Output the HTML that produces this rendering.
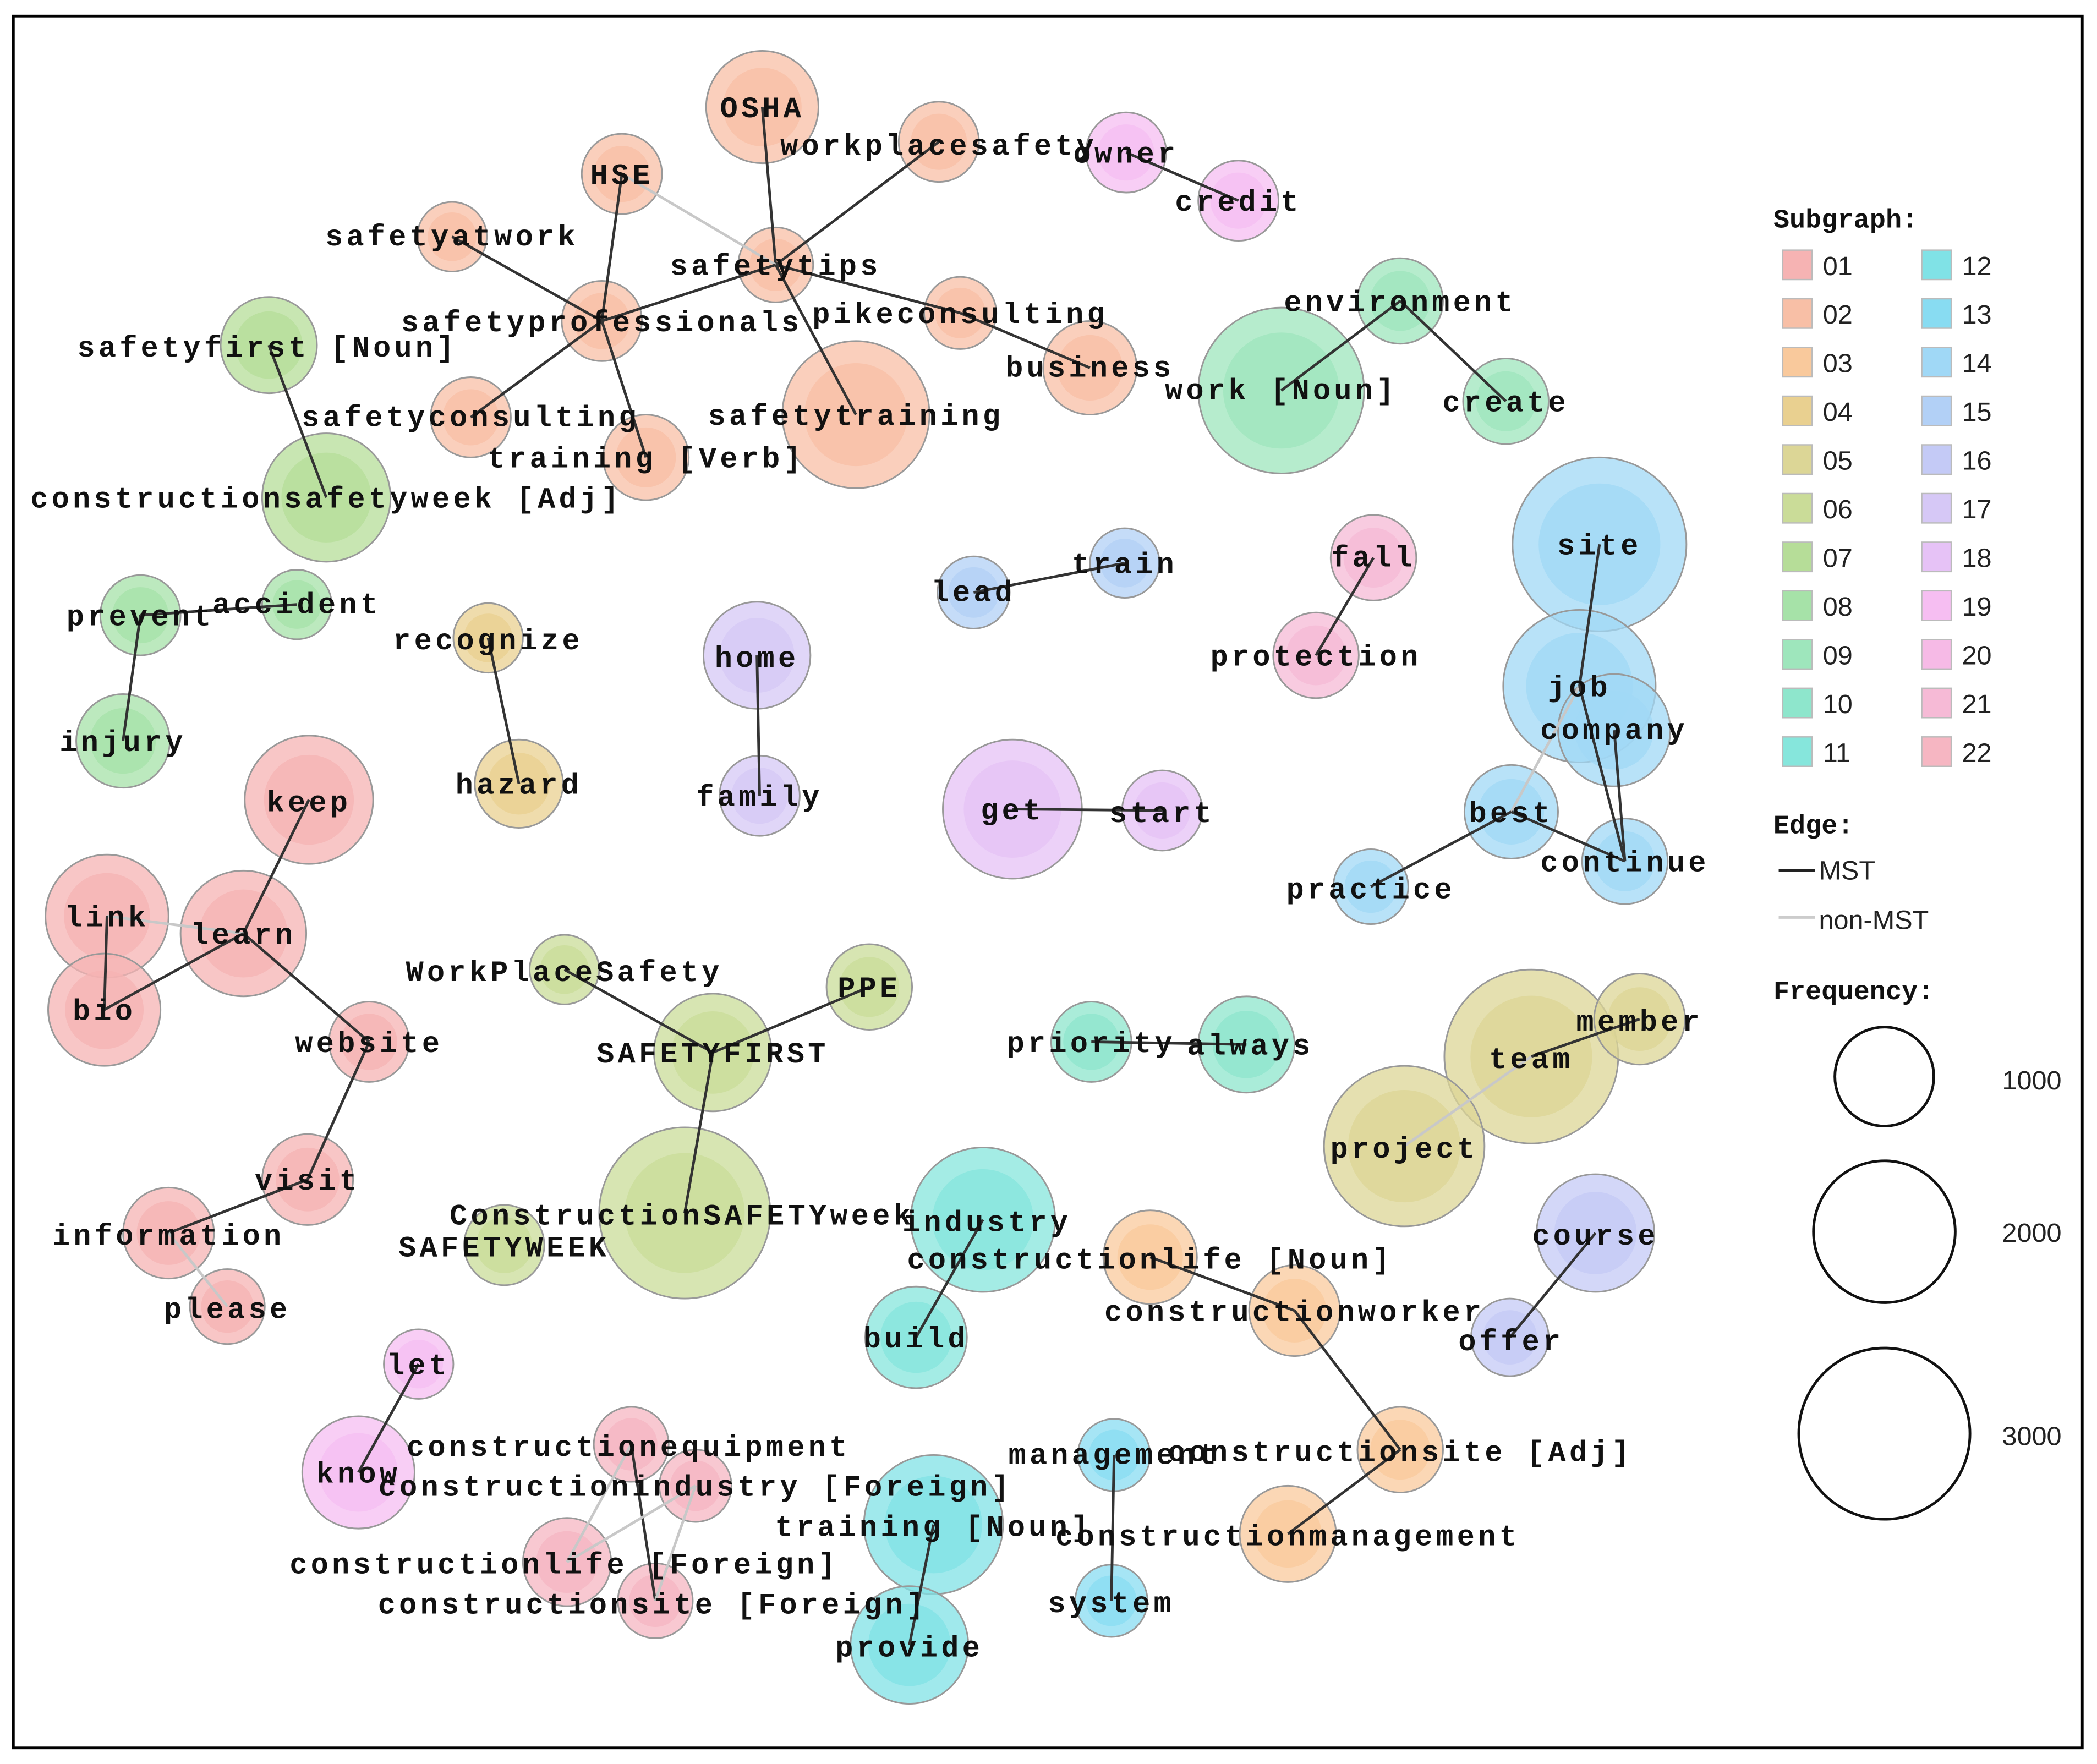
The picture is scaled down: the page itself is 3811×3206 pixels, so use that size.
<!DOCTYPE html>
<html><head><meta charset="utf-8"><style>
html,body{margin:0;padding:0;background:#fff;}
svg{display:block;}
.lb{font-family:"Liberation Mono",monospace;font-weight:bold;font-size:22px;letter-spacing:2.6px;fill:#111;text-anchor:middle;dominant-baseline:central;}
.lg{font-family:"Liberation Sans",sans-serif;font-size:20px;fill:#222;dominant-baseline:central;}
.lgb{font-family:"Liberation Mono",monospace;font-weight:bold;font-size:20px;fill:#111;dominant-baseline:central;}
.m{stroke:#333;stroke-width:2;}
.n{stroke:#c8c8c8;stroke-width:2;}
</style></head><body>
<svg width="3811" height="3206" viewBox="0 0 1568 1319" xmlns="http://www.w3.org/2000/svg">
<rect x="0" y="0" width="1568" height="1319" fill="#fff"/>
<rect x="10" y="12" width="1547" height="1295" fill="none" stroke="#000" stroke-width="2"/>
<g id="nodes"></g>
<g id="edges"></g>
<g id="labels"></g>
<text class="lgb" x="1326" y="165">Subgraph:</text>
<g id="legend"></g>
<text class="lgb" x="1326" y="618">Edge:</text>
<line x1="1330" y1="651" x2="1357" y2="651" stroke="#222" stroke-width="2"/>
<text class="lg" x="1360" y="651" font-size="18">MST</text>
<line x1="1330" y1="686" x2="1357" y2="686" stroke="#ccc" stroke-width="2"/>
<text class="lg" x="1360" y="688" font-size="18">non-MST</text>
<text class="lgb" x="1326" y="742">Frequency:</text>
<circle cx="1409" cy="805" r="37" fill="none" stroke="#111" stroke-width="2"/>
<circle cx="1409" cy="921" r="53" fill="none" stroke="#111" stroke-width="2"/>
<circle cx="1409" cy="1072" r="64" fill="none" stroke="#111" stroke-width="2"/>
<text class="lg" x="1497" y="808">1000</text>
<text class="lg" x="1497" y="922">2000</text>
<text class="lg" x="1497" y="1074">3000</text>
</svg>
<script>
const K=["01","02","03","04","05","06","07","08","09","10","11","12","13","14","15","16","17","18","19","20","21","22"];
const CV=["#f6b3b3","#f8bfa6","#f9c99c","#e9d090","#dcd696","#cadc98","#b6dd98","#a6e2a8","#9ee6bc","#8ee6cc","#86e6dc","#80e2e6","#88dcf2","#a0d8f6","#b2d0f6","#c4caf6","#d6c8f6","#e6c2f6","#f6bef2","#f6bae6","#f6bad6","#f6b6c2"];
const C={};K.forEach((k,i)=>C[k]=CV[i]);
const N={
OSHA:[570,80,42,"02"],workplacesafety:[702,106,30,"02"],HSE:[465,130,30,"02"],safetyatwork:[338,177,26,"02"],
safetytips:[580,198,28,"02"],safetyprofessionals:[450,240,30,"02"],pikeconsulting:[718,234,27,"02"],
safetytraining:[640,310,55,"02"],business:[815,275,35,"02"],safetyconsulting:[352,312,30,"02"],trainingV:[483,342,32,"02"],
owner:[842,114,30,"19"],credit:[926,150,30,"19"],safetyfirstN:[201,258,36,"07"],csw:[244,372,48,"07"],
environment:[1047,225,32,"09"],work:[958,292,62,"09"],create:[1126,300,32,"09"],
prevent:[105,460,30,"08"],accident:[222,452,26,"08"],injury:[92,554,35,"08"],
recognize:[365,477,26,"04"],hazard:[388,586,33,"04"],home:[566,490,40,"17"],family:[568,595,30,"17"],
lead:[728,443,27,"15"],train:[841,421,26,"15"],fall:[1027,417,32,"21"],protection:[984,490,32,"21"],
site:[1196,407,65,"14"],job:[1181,513,57,"14"],company:[1207,546,42,"14"],best:[1130,607,35,"14"],continue:[1215,644,32,"14"],practice:[1025,663,28,"14"],
keep:[231,598,48,"01"],link:[80,685,46,"01"],learn:[182,698,47,"01"],bio:[78,755,42,"01"],website:[276,779,30,"01"],visit:[230,882,34,"01"],information:[126,922,34,"01"],please:[170,977,28,"01"],
get:[757,605,52,"18"],start:[869,606,30,"18"],
WPS:[422,725,26,"06"],PPE:[650,738,32,"06"],SF:[533,787,44,"06"],CSW:[512,907,64,"06"],SW:[377,931,30,"06"],
priority:[816,779,30,"10"],always:[932,781,36,"10"],
team:[1145,790,65,"05"],member:[1226,762,34,"05"],project:[1050,857,60,"05"],
industry:[735,912,54,"11"],build:[685,1000,38,"11"],
clN:[860,940,35,"03"],cw:[968,980,34,"03"],csA:[1047,1084,32,"03"],cm:[963,1147,36,"03"],
course:[1193,922,44,"16"],offer:[1129,1000,29,"16"],management:[833,1088,27,"13"],system:[831,1197,27,"13"],
trainingN:[698,1140,52,"12"],provide:[680,1230,44,"12"],let:[313,1020,26,"19"],know:[268,1101,42,"19"],
ce:[472,1080,28,"22"],ciF:[520,1111,27,"22"],clF:[424,1168,33,"22"],csF:[490,1197,28,"22"]};
const L=[["OSHA",570,82],["workplacesafety",702,110],["HSE",465,132],["safetyatwork",338,178],["safetytips",580,200],
["safetyprofessionals",450,242],["pikeconsulting",718,236],["safetytraining",640,312],["business",815,276],
["safetyconsulting",352,313],["training [Verb]",483,344],["owner",842,116],["credit",926,152],["safetyfirst [Noun]",200,261],
["constructionsafetyweek [Adj]",244,374],["environment",1047,227],["work [Noun]",958,293],["create",1126,302],
["prevent",105,462],["accident",222,453],["injury",92,556],["recognize",365,480],["hazard",388,588],["home",566,493],["family",568,597],
["lead",728,444],["train",841,423],["fall",1027,418],["protection",984,492],["site",1196,409],["job",1181,515],["company",1207,547],
["best",1130,609],["continue",1215,646],["practice",1025,666],["keep",231,601],["link",80,687],["learn",182,700],["bio",78,757],
["website",276,781],["visit",230,884],["information",126,925],["please",170,980],["get",757,607],["start",869,609],
["WorkPlaceSafety",422,728],["PPE",650,740],["SAFETYFIRST",533,789],["ConstructionSAFETYweek",510,910],["SAFETYWEEK",377,934],
["priority",816,781],["always",935,783],["team",1145,793],["member",1226,765],["project",1050,860],["industry",738,915],
["build",685,1002],["constructionlife [Noun]",860,943],["constructionworker",968,982],["constructionsite [Adj]",1047,1087],
["constructionmanagement",963,1150],["course",1193,925],["offer",1130,1004],["management",833,1089],["system",831,1200],
["training [Noun]",698,1143],["provide",680,1233],["let",313,1022],["know",268,1103],["constructionequipment",470,1083],
["constructionindustry [Foreign]",520,1113],["constructionlife [Foreign]",422,1171],["constructionsite [Foreign]",488,1201]];
const E=[["OSHA","safetytips",1],["safetytips","workplacesafety",1],["HSE","safetytips",0],["HSE","safetyprofessionals",1],
["safetyatwork","safetyprofessionals",1],["safetytips","safetyprofessionals",1],["safetytips","pikeconsulting",1],["safetytips","safetytraining",1],
["safetyprofessionals","safetyconsulting",1],["safetyprofessionals","trainingV",1],["pikeconsulting","business",1],["owner","credit",1],
["safetyfirstN","csw",1],["environment","work",1],["environment","create",1],["prevent","accident",1],["prevent","injury",1],
["recognize","hazard",1],["home","family",1],["lead","train",1],["fall","protection",1],["site","job",1],["job","best",0],
["company","continue",1],["best","continue",1],["best","practice",1],["job","continue",1],["keep","learn",1],["link","learn",0],
["learn","bio",1],["learn","website",1],["website","visit",1],["visit","information",1],["information","please",0],["link","bio",1],
["get","start",1],["WPS","SF",1],["PPE","SF",1],["SF","CSW",1],["priority","always",1],["team","member",1],["team","project",0],
["industry","build",1],["clN","cw",1],["cw","csA",1],["csA","cm",1],["course","offer",1],["management","system",1],
["trainingN","provide",1],["let","know",1],["ce","clF",0],["ce","csF",1],["ciF","clF",0],["ciF","csF",0]];
const ns="http://www.w3.org/2000/svg";
function el(t,a,p){const e=document.createElementNS(ns,t);for(const k in a)e.setAttribute(k,a[k]);p.appendChild(e);return e;}
const gN=document.getElementById("nodes"),gE=document.getElementById("edges"),gL=document.getElementById("labels"),gG=document.getElementById("legend");
for(const k in N){const [x,y,r,c]=N[k];
el("circle",{cx:x,cy:y,r:r,fill:C[c],"fill-opacity":0.75,stroke:"#999","stroke-width":1.2},gN);
el("circle",{cx:x,cy:y,r:r*0.7,fill:C[c],"fill-opacity":0.75},gN);}
for(const [a,b,m] of E){const A=N[a],B=N[b];el("line",{x1:A[0],y1:A[1],x2:B[0],y2:B[1],class:m?"m":"n"},gE);}
for(const [t,x,y] of L){const e=el("text",{x:x,y:y,class:"lb"},gL);e.textContent=t;}
K.forEach((k,i)=>{const col=i<11?0:1,row=i%11;const x=col?1437:1333,y=198+row*36.4;
el("rect",{x:x,y:y-11,width:22,height:22,fill:C[k],stroke:"#bbb","stroke-width":1},gG);
const t=el("text",{x:x+30,y:y+1,class:"lg"},gG);t.textContent=k;});
</script>
</body></html>
